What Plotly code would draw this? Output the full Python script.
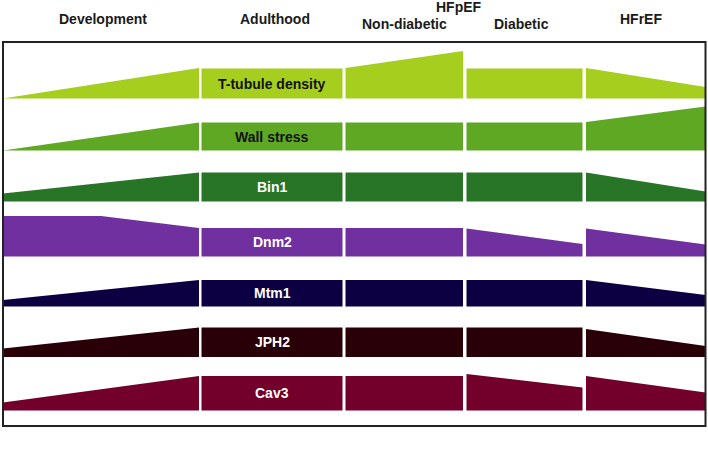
import plotly.graph_objects as go

# stages (columns) and their horizontal extents
stages = ["Development", "Adulthood", "Non-diabetic", "Diabetic", "HFrEF"]
stage_left = [3, 201.5, 345.5, 466.5, 586]
stage_right = [199, 342.5, 463, 582.5, 705.5]

# rows (markers) and their relative levels across each stage
markers = ["T-tubule density", "Wall stress", "Bin1", "Dnm2", "Mtm1", "JPH2", "Cav3"]
marker_colors = ["#A6CE1E", "#5FA823", "#287528", "#7030A0", "#0C0042", "#2A0008", "#73002A"]
label_colors = ["#111111", "#111111", "white", "white", "white", "white", "white"]
row_base = [98.5, 150.5, 201.5, 256.5, 306.5, 357, 410.5]

t_tubule = [[0, 30.5], [30, 30], [30.5, 47.5], [30, 30], [30.5, 11.5]]
wall_stress = [[0, 28], [28, 28], [28, 28], [28, 28], [28.5, 44]]
bin1 = [[8, 29], [29, 29], [29, 29], [29, 29], [29, 10]]
dnm2 = [[40.5, 40.5, 28.5], [28.5, 28.5], [28.5, 28.5], [28, 12.5], [28, 12]]
mtm1 = [[6.5, 26.5], [26.5, 26.5], [26.5, 26.5], [26.5, 26.5], [26.5, 11.5]]
jph2 = [[8.5, 29.5], [29.5, 29.5], [29.5, 29.5], [29.5, 29.5], [28, 11]]
cav3 = [[8, 34.5], [34.5, 34.5], [34.5, 34.5], [36.5, 23], [34.5, 18]]
levels = [t_tubule, wall_stress, bin1, dnm2, mtm1, jph2, cav3]

# header labels
header_text = ["Development", "Adulthood", "HFpEF", "Non-diabetic", "Diabetic", "HFrEF"]
header_x = [103, 274.5, 459, 404.5, 521, 641]
header_y = [19, 19, 7, 24, 24, 19]

W, H = 708, 449
frame = dict(x0=3, y0=42, x1=705.5, y1=426)

fig = go.Figure()

for name, color, lab_col, base, prof in zip(markers, marker_colors, label_colors, row_base, levels):
    for i, heights in enumerate(prof):
        x0, x1 = stage_left[i], stage_right[i]
        n = len(heights)
        xs = [x0 + (x1 - x0) * k / (n - 1) for k in range(n)]
        ys = [base - h for h in heights]
        fig.add_trace(go.Scatter(
            x=xs + [x1, x0, x0],
            y=ys + [base, base, ys[0]],
            mode="lines", fill="toself",
            fillcolor=color, line=dict(width=0, color=color),
            hoverinfo="skip", showlegend=False
        ))
    # label centred on the adulthood block
    fig.add_annotation(
        x=(stage_left[1] + stage_right[1]) / 2, y=base - prof[1][0] / 2,
        text="<b>%s</b>" % name, showarrow=False,
        font=dict(family="Liberation Sans, Arial", size=14, color=lab_col)
    )

for t, x, y in zip(header_text, header_x, header_y):
    fig.add_annotation(
        x=x, y=y, text="<b>%s</b>" % t, showarrow=False,
        font=dict(family="Liberation Sans, Arial", size=14, color="#1a1a1a")
    )

fig.add_shape(type="rect", xref="x", yref="y", line=dict(color="#222222", width=2),
              **frame)

fig.update_layout(
    width=W, height=H,
    margin=dict(l=0, r=0, t=0, b=0),
    paper_bgcolor="white", plot_bgcolor="white",
    xaxis=dict(range=[0, W], visible=False, fixedrange=True),
    yaxis=dict(range=[H, 0], visible=False, fixedrange=True),
)

# drop the browser's default body margin so the figure sits at the page corner
fig.write_html("out.html", config={"displayModeBar": False},
               post_script="document.body.style.margin='0';")
